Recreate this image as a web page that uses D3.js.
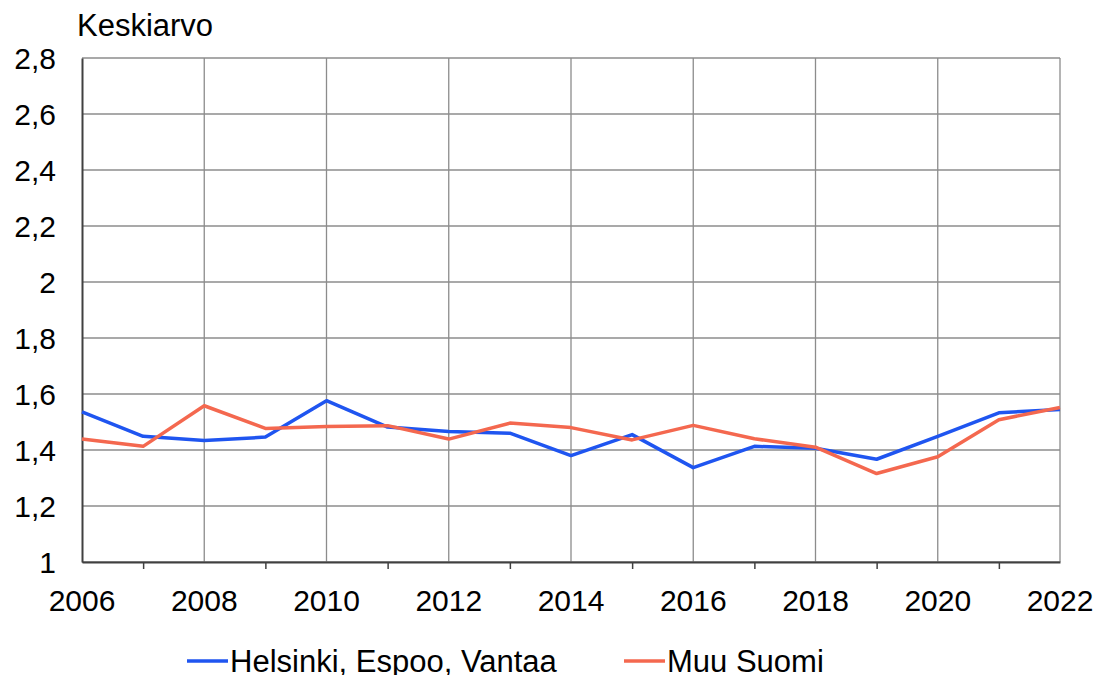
<!DOCTYPE html>
<html>
<head>
<meta charset="utf-8">
<script src="https://cdn.jsdelivr.net/npm/d3@7"></script>
<style>
  body { margin: 0; background: #fff; }
  svg text { font-family: "Liberation Sans", Arial, sans-serif; fill: #000; }
</style>
</head>
<body>
<svg id="chart" width="1099" height="675"></svg>
<script>
// Data
var years = [2006, 2007, 2008, 2009, 2010, 2011, 2012, 2013, 2014,
             2015, 2016, 2017, 2018, 2019, 2020, 2021, 2022];
var helsinki = [1.536, 1.449, 1.434, 1.446, 1.576, 1.482, 1.466, 1.460, 1.380,
                1.455, 1.337, 1.413, 1.406, 1.367, 1.449, 1.533, 1.545];
var muuSuomi = [1.439, 1.413, 1.558, 1.477, 1.484, 1.487, 1.439, 1.496, 1.480,
                1.436, 1.488, 1.440, 1.410, 1.316, 1.376, 1.508, 1.552];
var yTicks = [1, 1.2, 1.4, 1.6, 1.8, 2, 2.2, 2.4, 2.6, 2.8];
var xLabelYears = [2006, 2008, 2010, 2012, 2014, 2016, 2018, 2020, 2022];
var seriesNames = ["Helsinki, Espoo, Vantaa", "Muu Suomi"];
var seriesColors = ["#1f55f0", "#f4684f"];

(function() {
  var svg = d3.select("#chart");
  var plotLeft = 82, plotRight = 1060, plotTop = 58, plotBottom = 562;

  var x = d3.scaleLinear().domain([2006, 2022]).range([plotLeft, plotRight]);
  var y = d3.scaleLinear().domain([1, 2.8]).range([plotBottom, plotTop]);

  var fmt = function(v) { return String(+v.toFixed(1)).replace(".", ","); };

  // horizontal gridlines
  svg.append("g")
    .selectAll("line")
    .data(yTicks)
    .join("line")
      .attr("x1", plotLeft).attr("x2", plotRight)
      .attr("y1", function(d) { return y(d); })
      .attr("y2", function(d) { return y(d); })
      .attr("stroke", "#8c8c8c")
      .attr("stroke-width", 1.3);

  // vertical gridlines at labelled years
  svg.append("g")
    .selectAll("line")
    .data(xLabelYears.slice(1))
    .join("line")
      .attr("x1", function(d) { return x(d); })
      .attr("x2", function(d) { return x(d); })
      .attr("y1", plotTop).attr("y2", plotBottom)
      .attr("stroke", "#8c8c8c")
      .attr("stroke-width", 1.3);

  // y axis
  var yAxis = svg.append("g")
    .attr("transform", "translate(" + plotLeft + ",0)")
    .call(d3.axisLeft(y).tickValues(yTicks).tickSize(0).tickPadding(26).tickFormat(fmt));
  yAxis.select(".domain").attr("stroke", "#404040").attr("stroke-width", 2);
  yAxis.selectAll("text").style("font-size", "30px").attr("dy", "0.36em");

  // x axis: ticks at odd years, labels at even years
  var xAxis = svg.append("g")
    .attr("transform", "translate(0," + plotBottom + ")")
    .call(d3.axisBottom(x).tickValues(years.filter(function(d) { return d % 2 == 1; }))
      .tickSize(7).tickSizeOuter(0).tickFormat(""));
  xAxis.select(".domain").attr("stroke", "#404040").attr("stroke-width", 2);
  xAxis.selectAll(".tick line").attr("stroke", "#404040").attr("stroke-width", 1.5);

  svg.append("g")
    .selectAll("text")
    .data(xLabelYears)
    .join("text")
      .attr("x", function(d) { return x(d); })
      .attr("y", 611)
      .attr("text-anchor", "middle")
      .style("font-size", "30px")
      .text(function(d) { return d; });

  // title
  svg.append("text")
    .attr("x", 77).attr("y", 36)
    .style("font-size", "31px")
    .text("Keskiarvo");

  // lines
  var line = d3.line()
    .x(function(d, i) { return x(years[i]); })
    .y(function(d) { return y(d); });

  [helsinki, muuSuomi].forEach(function(s, i) {
    svg.append("path")
      .datum(s)
      .attr("d", line)
      .attr("fill", "none")
      .attr("stroke", seriesColors[i])
      .attr("stroke-width", 3.5)
      .attr("stroke-linejoin", "round");
  });

  // legend
  var legendX = [187, 624];
  seriesNames.forEach(function(name, i) {
    var g = svg.append("g").attr("transform", "translate(" + legendX[i] + ",661)");
    g.append("line")
      .attr("x1", 0).attr("x2", 41)
      .attr("stroke", seriesColors[i])
      .attr("stroke-width", 3.5);
    g.append("text")
      .attr("x", 43).attr("y", 11)
      .style("font-size", "31px")
      .text(name);
  });
})();
</script>
</body>
</html>
